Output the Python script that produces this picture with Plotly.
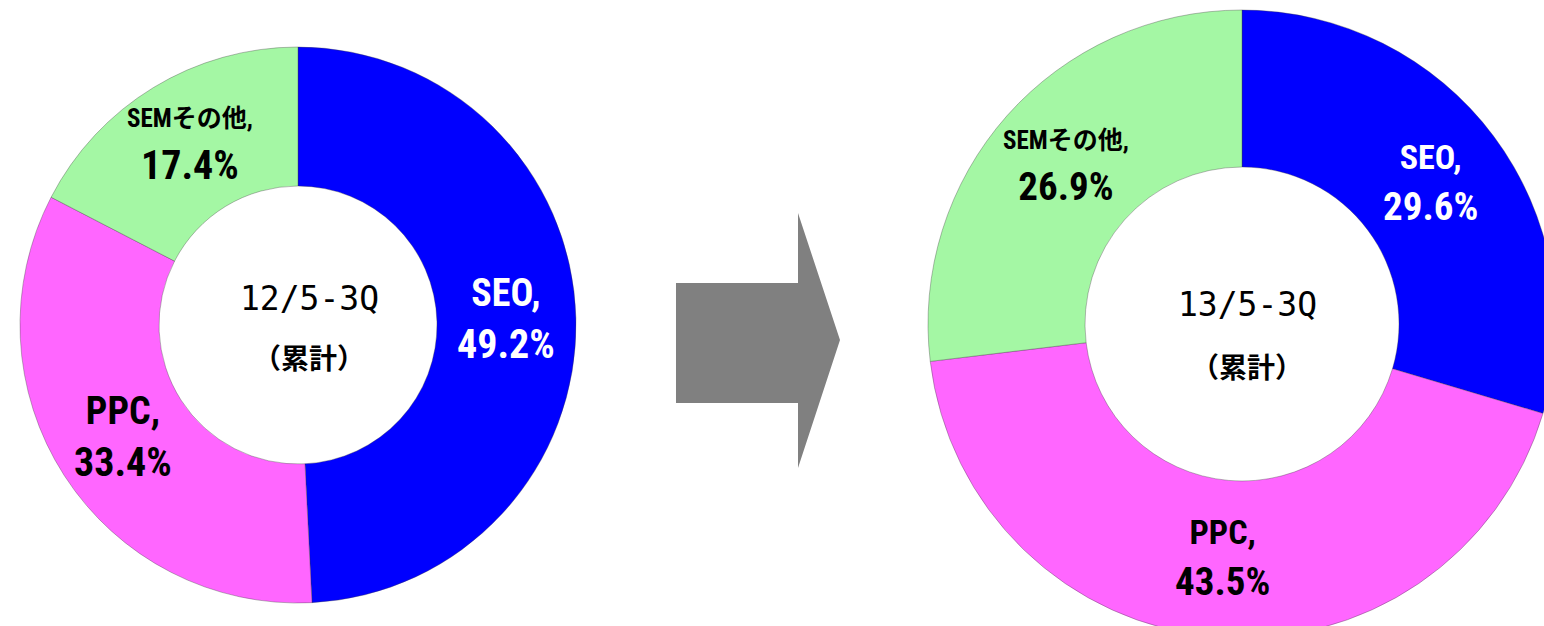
import math
import plotly.graph_objects as go

categories = ["SEO", "PPC", "SEMその他"]
values_2012 = [49.2, 33.4, 17.4]
values_2013 = [29.6, 43.5, 26.9]
period_2012 = "12/5-3Q"
period_2013 = "13/5-3Q"
period_sub = "（累計）"

colors = ["#0000FF", "#FF66FF", "#A4F7A4"]
text_colors = ["white", "black", "black"]
LABEL_FONT = "Liberation Sans Narrow, Roboto Condensed, Arial Narrow, Noto Sans CJK JP, sans-serif"

# the figure is slightly larger than the 1544x626 window so the right donut is cropped like the original
W, H = 1560, 640
HOLE = 0.5


def px_x(x):
    return x / W


def px_y(y):
    return 1 - y / H


fig = go.Figure()

charts = [
    # values, center (px), radius px, period, name size, number size, SEM name size, title offsets
    (values_2012, (298, 325), 278, period_2012, 38, 40, 25, (11, -27, 32)),
    (values_2013, (1242, 324), 314, period_2013, 34, 39, 25, (5, -20, 42)),
]

for vals, (cx, cy), R, period, name_sz, num_sz, small, (tdx, t1, t2) in charts:
    dom = dict(x=[px_x(cx - R), px_x(cx + R)], y=[px_y(cy + R), px_y(cy - R)])
    fig.add_trace(go.Pie(
        labels=categories,
        values=vals,
        textinfo="none",
        marker=dict(colors=colors, line=dict(color="rgba(60,60,60,0.35)", width=1)),
        hole=HOLE,
        sort=False,
        direction="clockwise",
        rotation=0,
        domain=dom,
        hoverinfo="label+value",
    ))

    # centre text
    fig.add_annotation(x=px_x(cx + tdx), y=px_y(cy + t1), xref="paper", yref="paper",
                       text=period, showarrow=False, xanchor="center", yanchor="middle",
                       font=dict(family="DejaVu Sans Mono", size=33, color="black"))
    fig.add_annotation(x=px_x(cx + tdx), y=px_y(cy + t2), xref="paper", yref="paper",
                       text=period_sub, showarrow=False, xanchor="center", yanchor="middle",
                       font=dict(family="Noto Sans CJK JP", size=28, color="black", weight="bold"))

    # slice labels, placed at each slice's mid-angle in the middle of the ring
    total = sum(vals)
    cum = 0.0
    rmid = R * (1 + HOLE) / 2
    for cat, v, tc in zip(categories, vals, text_colors):
        mid = (cum + v / 2) / total * 2 * math.pi
        cum += v
        lx = cx + rmid * math.sin(mid)
        ly = cy - rmid * math.cos(mid)
        nsz = small if cat == "SEMその他" else name_sz
        txt = f"<span style='font-size:{nsz}px'>{cat},</span><br>{v:.1f}%"
        fig.add_annotation(x=px_x(lx), y=px_y(ly), xref="paper", yref="paper",
                           text=txt, showarrow=False, xanchor="center", yanchor="middle",
                           font=dict(family=LABEL_FONT, size=num_sz, color=tc, weight="bold"))

# decorative arrow between the two donuts (pixel outline -> paper coords)
arrow_px = [(676, 283), (798, 283), (798, 213), (840, 340), (798, 468), (798, 403), (676, 403)]
arrow_path = "M " + " L ".join(f"{px_x(x):.5f} {px_y(y):.5f}" for x, y in arrow_px) + " Z"
fig.add_shape(type="path", xref="paper", yref="paper", path=arrow_path,
              fillcolor="#808080", line=dict(width=0))

fig.update_layout(
    width=W, height=H,
    margin=dict(l=0, r=0, t=0, b=0),
    paper_bgcolor="white", plot_bgcolor="white",
    showlegend=False,
)

fig.write_html("out.html", config={"displayModeBar": False},
               post_script="document.body.style.margin='0';document.body.style.overflow='hidden';")
